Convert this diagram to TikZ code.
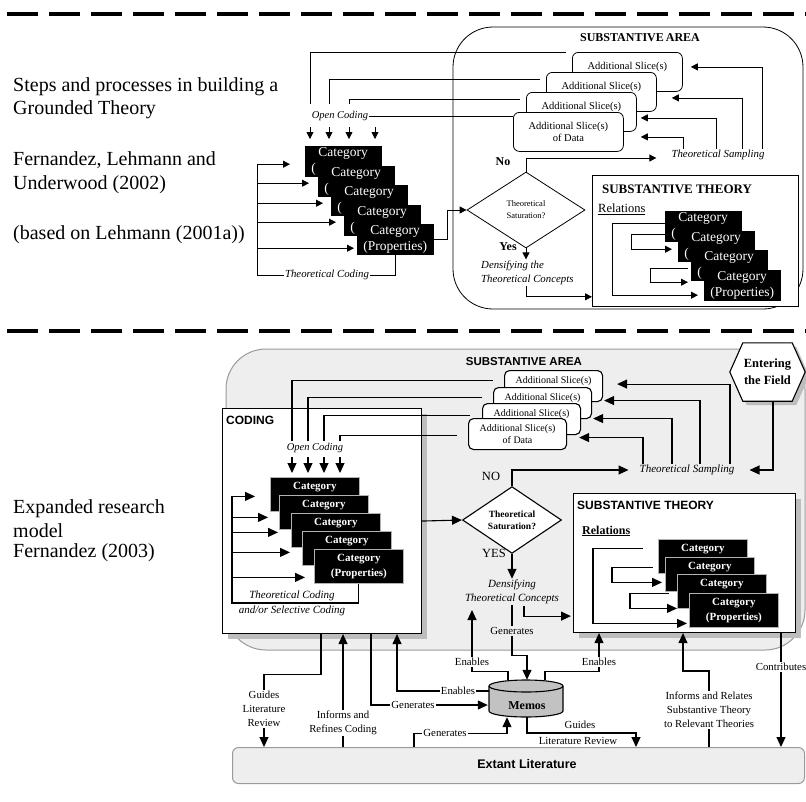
\documentclass[tikz,border=0pt]{standalone}
\usepackage{fontspec}
\setmainfont{Liberation Serif}
\setsansfont{Liberation Sans}
\usetikzlibrary{arrows.meta,shapes.geometric,calc,shadows}
\newcommand\fsz[2]{\fontsize{#1}{#2}\selectfont}
% text of a category box that is partly covered by the next one
\newcommand\covcat{Category\\(\phantom{Properties)}}
\newcommand\covcatb{Category\\\phantom{(Properties)}}
\definecolor{areagray}{HTML}{EEEEEE}
\definecolor{edgegray}{HTML}{9A9A9A}
\definecolor{shadowgray}{HTML}{BDBDBD}
\definecolor{memogray}{HTML}{C2C2C2}
\begin{document}
\begin{tikzpicture}[x=1pt,y=-1pt,
  tl/.style={line width=0.8pt},
  ta/.style={tl,-{Triangle[length=7pt,width=7pt]}},
  bl/.style={line width=1.1pt},
  ba/.style={bl,-{Triangle[length=10pt,width=9pt]}},
  sepline/.style={line width=3.6pt,dash pattern=on 31pt off 11pt},
  ltxt/.style={anchor=west,inner sep=0pt,font=\fsz{20}{24}},
  tcat/.style={anchor=north west,fill=black,draw=black,text=white,minimum width=76pt,
    minimum height=30pt,inner sep=0pt,align=center,font=\fsz{13.5}{16}},
  bcat/.style={anchor=north west,fill=black,draw=gray!60,line width=0.8pt,text=white,
    minimum width=89pt,minimum height=34pt,inner sep=0pt,align=center,font=\bfseries\fsz{11}{14.5}},
  tslice/.style={anchor=north west,draw,tl,fill=white,rounded corners=6pt,minimum width=110pt,
    minimum height=39pt,inner sep=0pt,align=center,font=\fsz{10.5}{11.5}},
  bslice/.style={anchor=north west,draw,bl,fill=white,rounded corners=5pt,minimum width=98pt,
    minimum height=31pt,inner sep=0pt,align=center,font=\fsz{10}{12}},
  ital/.style={inner sep=1pt,align=center,font=\itshape\fsz{10.8}{14}},
  lbl/.style={inner sep=1pt,align=center,font=\fsz{10.8}{14}},
  lblw/.style={lbl,fill=white},
  boxshadow/.style={drop shadow={shadow xshift=5pt,shadow yshift=-5pt,fill=shadowgray,opacity=1}}
]
\useasboundingbox (0,0) rectangle (806,801);

% separators between the two models
\draw[sepline] (7,14) -- (806,14);
\draw[sepline] (7,331) -- (806,331);

% ================= upper model =================
\node[ltxt] at (13,87) {Steps and processes in building a};
\node[ltxt] at (13,110) {Grounded Theory};
\node[ltxt] at (13,160) {Fernandez, Lehmann and};
\node[ltxt] at (13,185) {Underwood (2002)};
\node[ltxt] at (13,235) {(based on Lehmann (2001a))};

% substantive area
\draw[tl,rounded corners=40pt] (453,27) rectangle (803,309);
\node[font=\bfseries\fsz{12}{14}] (tareat) at (640,38) {SUBSTANTIVE\,AREA};

% slices of data
\foreach \n/\x/\y in {1/572/52,2/546/72,3/526/92}
  \node[tslice] (ts\n) at (\x,\y) {Additional Slice(s)\\\phantom{of Data}};
\node[tslice] (ts4) at (513,112) {Additional Slice(s)\\of Data};

% open coding
\node[ital,font=\itshape\fsz{10.5}{12}] (toc) at (340,116) {Open Coding};
\draw[tl] (310,104) |- ($(ts1.north west)+(-6,0)$);
\draw[tl] (329,104) |- ($(ts2.north west)+(-6,7)$);
\draw[tl] (349,104) |- ($(ts3.north west)+(-6,7)$);
\draw[tl] (toc.east) -- (toc.east -| ts4.west);
\foreach \x in {310,329,349,375}
  \draw[ta] (\x,127) -- (\x,139);

% categories
\foreach \n/\x/\y in {1/305/146,2/318/166,3/331/185,4/344/205}
  \node[tcat] (tc\n) at (\x,\y) {\covcat};
\node[tcat] (tc5) at (357,224) {Category\\(Properties)};

% theoretical coding
\coordinate (tcx) at (257,0);
\path ($(tc1.west)+(-15,3)$) coordinate (tt1)
      ($(tc2.west)+(-9,2)$) coordinate (tt2)
      ($(tc3.west)+(-8,3)$) coordinate (tt3)
      ($(tc4.west)+(-8,2)$) coordinate (tt4)
      ($(tc5.west)+(-3,9)$) coordinate (tt5);
\foreach \n in {1,...,5}
  \draw[ta] (tcx |- tt\n) -- (tt\n);
\node[ital] (ttc) at (327,275) {Theoretical Coding};
\draw[tl] (tcx |- tt1) |- (ttc.west);
\draw[tl] (ttc.east) -| (tc5.south);

% saturation
\node[draw,tl,diamond,fill=white,minimum width=118pt,minimum height=76pt,inner sep=0pt,
  align=center,font=\fsz{8.5}{12}] (tdia) at (526,210) {Theoretical\\Saturation?};
\draw[ta] (tc5.east) -- ++(14,0) |- (tdia.west);
\node[font=\bfseries\fsz{12}{14}] at (503,162) {No};
\node[font=\bfseries\fsz{12}{14}] at (508,247) {Yes};

% theoretical sampling
\node[ital] (tsamp) at (718,155) {Theoretical Sampling};
\draw[ta] (tdia.north) |- ($(tsamp.west)+(-14,3)$);
\draw[ta] ($(tsamp.north)+(44,0)$) |- ($(ts1.east)+(8,-5)$);
\draw[ta] ($(tsamp.north)+(24,0)$) |- ($(ts2.east)+(15,6)$);
\draw[ta] ($(tsamp.north)+(-2,0)$) |- ($(ts3.east)+(4,6)$);
\draw[ta] ($(tsamp.north)+(-35,0)$) |- ($(ts4.east)+(17,5)$);

% densifying
\draw[ta] (tdia.south) -- ++(0,11);
\node[ital,anchor=north west,align=left] (tdens) at (480,260) {Densifying the\\Theoretical Concepts};

% substantive theory
\node[draw,tl,fill=white,anchor=north west,minimum width=206pt,minimum height=131pt,inner sep=0pt]
  (tst) at (592,175) {};
\draw[ta] ($(tdens.south west)+(46,0)$) |- ($(tst.south west)+(0,-10)$);
\node[font=\bfseries\fsz{13}{15}] at (677,189) {SUBSTANTIVE THEORY};
\node[anchor=west,inner sep=0pt,font=\fsz{12.5}{14}] at (598,209) {\underline{Relations}};
\foreach \n/\x/\y in {1/665/211,2/678/231,3/691/250}
  \node[tcat] (tsc\n) at (\x,\y) {\covcat};
\node[tcat] (tsc4) at (704,270) {Category\\(Properties)};
\draw[ta] ($(tsc1.west)+(0,-3)$) -- ++(-53,0) -- ++(0,72) -- ($(tsc4.west)+(-6,10)$);
\draw[ta] ($(tsc1.west)+(0,8)$) -- ++(-34,0) -- ++(0,15) -- ($(tsc2.west)+(-6,3)$);
\draw[ta] ($(tsc3.west)+(-3,3)$) -- ++(-38,0) -- ++(0,14) -- ($(tsc3.west)+(-3,17)$);

% ================= lower model =================
\node[ltxt] at (13,509) {Expanded research};
\node[ltxt] at (13,531) {model};
\node[ltxt] at (13,553) {Fernandez (2003)};

% substantive area
\draw[draw=edgegray,fill=areagray,line width=1pt,rounded corners=40pt] (226,349) rectangle (805,650);
\node[font=\sffamily\bfseries\fsz{11.5}{14}] (bareat) at (524,362) {SUBSTANTIVE AREA};

% entering the field
\node[inner sep=0pt,minimum width=75pt,minimum height=58pt] (field) at (767.5,372) {};
\filldraw[bl,fill=white,drop shadow={shadow xshift=4pt,shadow yshift=-4pt,fill=shadowgray,opacity=1}]
  (field.west) -- ($(field.north west)+(13,0)$) -- ($(field.north east)+(-13,0)$)
  -- (field.east) -- ($(field.south east)+(-13,0)$) -- ($(field.south west)+(13,0)$) -- cycle;
\node[align=center,font=\bfseries\fsz{12.5}{17}] at (field.center) {Entering\\the Field};

% slices of data
\node[bslice] (bs1) at (504,370) {Additional Slice(s)\\\phantom{of Data}};
\node[bslice] (bs2) at (493,387) {Additional Slice(s)\\\phantom{of Data}};
\node[bslice] (bs3) at (482,403) {Additional Slice(s)\\\phantom{of Data}};
\node[bslice] (bs4) at (468,418) {Additional Slice(s)\\of Data};

% coding
\node[draw,bl,fill=white,boxshadow,anchor=north west,minimum width=199pt,minimum height=225pt,inner sep=0pt]
  (bcode) at (222,408) {};
\node[anchor=west,inner sep=0pt,font=\sffamily\bfseries\fsz{12}{14}] at (226,420) {CODING};
\node[ital,font=\itshape\fsz{10.5}{12}] (boc) at (315,448) {Open Coding};
\draw[bl] (292,441) |- ($(bs1.west)+(-11,-6)$);
\draw[bl] (308,441) |- ($(bs2.west)+(-11,-6)$);
\draw[bl] (324,441) |- ($(bs3.west)+(-12,-4)$);
\draw[bl] (340,441) |- ($(bs4.west)+(-11,1.5)$);
\foreach \x in {292,308,324,340}
  \draw[ba] (\x,457) -- (\x,473);

\foreach \n/\x/\y in {1/270/477,2/279/495,3/291/513,4/302/531}
  \node[bcat] (bc\n) at (\x,\y) {\covcatb};
\node[bcat] (bc5) at (314,549) {Category\\(Properties)};

\coordinate (bcx) at (232,0);
\path ($(bc1.west)+(-15,2)$) coordinate (bt1)
      ($(bc2.west)+(-11,5)$) coordinate (bt2)
      ($(bc3.west)+(-13,2)$) coordinate (bt3)
      ($(bc4.west)+(-12,4)$) coordinate (bt4)
      ($(bc5.west)+(-9,11)$) coordinate (bt5);
\foreach \n in {1,...,5}
  \draw[ba] (bcx |- bt\n) -- (bt\n);
\draw[bl] (bcx |- bt1) -- (232,603) -| (bc5.south);
\node[ital,font=\itshape\fsz{11}{15}] at (292,603.5) {Theoretical Coding\\and/or Selective Coding};

% saturation
\node[draw,bl,diamond,fill=white,minimum width=99pt,minimum height=56pt,inner sep=0pt,
  align=center,font=\bfseries\fsz{9.5}{12}] (bdia) at (512,520) {Theoretical\\Saturation?};
\draw[ba] (bcode.east) -- (bdia.west);
\node[font=\fsz{12.5}{14}] at (491,476) {NO};
\node[font=\fsz{12.5}{14}] at (494,553) {YES};

% theoretical sampling
\node[ital,font=\itshape\fsz{11}{14}] (bsamp) at (687,470) {Theoretical Sampling};
\draw[ba] (bdia.north) |- ($(bsamp.west)+(-10,0)$);
\coordinate (fsouth) at (773,401);
\draw[ba] (fsouth) |- ($(bsamp.east)+(14,0)$);
\draw[ba] ($(bsamp.north)+(43,0)$) |- ($(bs1.east)+(14,-2)$);
\draw[ba] ($(bsamp.north)+(13,0)$) |- ($(bs2.east)+(12,-2.5)$);
\draw[ba] ($(bsamp.north)+(-15,0)$) |- ($(bs3.east)+(12,-0.5)$);
\draw[ba] ($(bsamp.north)+(-44,0)$) |- ($(bs4.east)+(12,3.5)$);

% densifying
\node[ital,font=\itshape\fsz{11}{14}] (bdens) at (512,592) {Densifying\\Theoretical Concepts};
\draw[ba] (bdia.south) -- (bdens.north);

% substantive theory
\node[draw,bl,fill=white,boxshadow,anchor=north west,minimum width=222pt,minimum height=139pt,inner sep=0pt]
  (bst) at (573,493) {};
\draw[ba] ($(bdens.south)+(12,1)$) |- ($(bst.south west)+(-2,-17)$);
\node[anchor=west,inner sep=0pt,font=\sffamily\bfseries\fsz{12}{14}] at (577,505) {SUBSTANTIVE THEORY};
\node[anchor=west,inner sep=0pt,font=\bfseries\fsz{12}{14}] at (582,531) {\underline{Relations}};
\foreach \n/\x/\y in {1/658/539,2/665/557,3/677/574}
  \node[bcat] (bsc\n) at (\x,\y) {\covcatb};
\node[bcat] (bsc4) at (689,593) {Category\\(Properties)};
\draw[ba] ($(bsc1.west)+(-15,-8)$) -- ++(-50,0) -- ++(0,75) -- ($(bsc4.west)+(-2,13)$);
\draw[ba] ($(bsc2.west)+(-12,-7)$) -- ++(-41,0) -- ++(0,15) -- ($(bsc2.west)+(-3,8)$);
\draw[ba] ($(bsc3.west)+(-8,2)$) -- ++(-39,0) -- ++(0,15) -- ($(bsc3.west)+(0,17)$);

% extant literature
\node[draw=edgegray,fill=areagray,line width=1pt,rounded corners=6pt,anchor=north west,
  minimum width=572pt,minimum height=36pt,inner sep=0pt] (ext) at (232,747) {};
\node[font=\sffamily\bfseries\fsz{12.5}{14}] at (527,764) {Extant Literature};

% memos
\node[inner sep=0pt,minimum width=74pt,minimum height=38pt] (memos) at (526,699) {};
\fill[memogray] (489,686) -- (489,711) arc[start angle=180,end angle=360,x radius=37pt,y radius=6pt]
  -- (563,686) arc[start angle=0,end angle=180,x radius=37pt,y radius=6pt] -- cycle;
\draw[bl] (489,686) -- (489,711) arc[start angle=180,end angle=360,x radius=37pt,y radius=6pt] -- (563,686);
\draw[bl] (526,686) ellipse[x radius=37pt,y radius=6pt];
\node[font=\bfseries\fsz{12}{14}] at ($(memos.center)+(1,7)$) {Memos};

% memo links
\coordinate (densin) at (472,610);
\draw[ba] (bdens.south) -- ++(0,50) -| ($(memos.north)+(1,0)$);
\node[lbl,fill=areagray] at (512,631) {Generates};
\draw[ba] ($(memos.north)+(-18,0)$) -- ++(0,-8) -| (densin);
\node[lblw] at (472,662) {Enables};
\draw[ba] ($(memos.north)+(19,0)$) -- ++(0,-8) -| ($(bst.south west)+(26,0)$);
\node[lblw] at (599,662) {Enables};
\draw[ba] ($(memos.west)+(0,-8)$) -| ($(bcode.south west)+(175,0)$);
\node[lblw] at (458,691) {Enables};
\draw[ba] ($(bcode.south west)+(149,0)$) |- ($(memos.west)+(-1,6)$);
\node[lblw] at (413,705) {Generates};
\draw[ba] ($(ext.north west)+(182,0)$) |- ($(memos.south)+(-19,15)$) -- ($(memos.south)+(-19,-1)$);
\node[lblw] at (445,733) {Generates};
\draw[ba] ($(memos.south)+(1,-1)$) |- ($(ext.north west)+(404,-14)$) -- ($(ext.north west)+(404,0)$);
\node[lbl] at (580,725) {Guides};
\node[lbl] at (578,741) {Literature Review};

% coding and literature
\draw[ba] ($(bcode.south west)+(99,0)$) -- ++(0,40) -| ($(ext.north west)+(32,0)$);
\node[lblw] at (264,709) {Guides\\Literature\\Review};
\draw[ba] ($(ext.north west)+(111,0)$) -- ($(bcode.south west)+(121,0)$);
\node[lblw] at (343,723) {Informs and\\Refines Coding};

% theory and literature
\draw[ba] ($(ext.north west)+(477,0)$) -- ++(0,-76) -| ($(bst.south west)+(110,0)$);
\node[lblw] at (709,710) {Informs and Relates\\Substantive Theory\\to Relevant Theories};
\draw[ba] ($(bst.south west)+(208,0)$) -- ($(ext.north west)+(549,0)$);
\node[lblw] at (781,667) {Contributes};
\end{tikzpicture}
\end{document}
